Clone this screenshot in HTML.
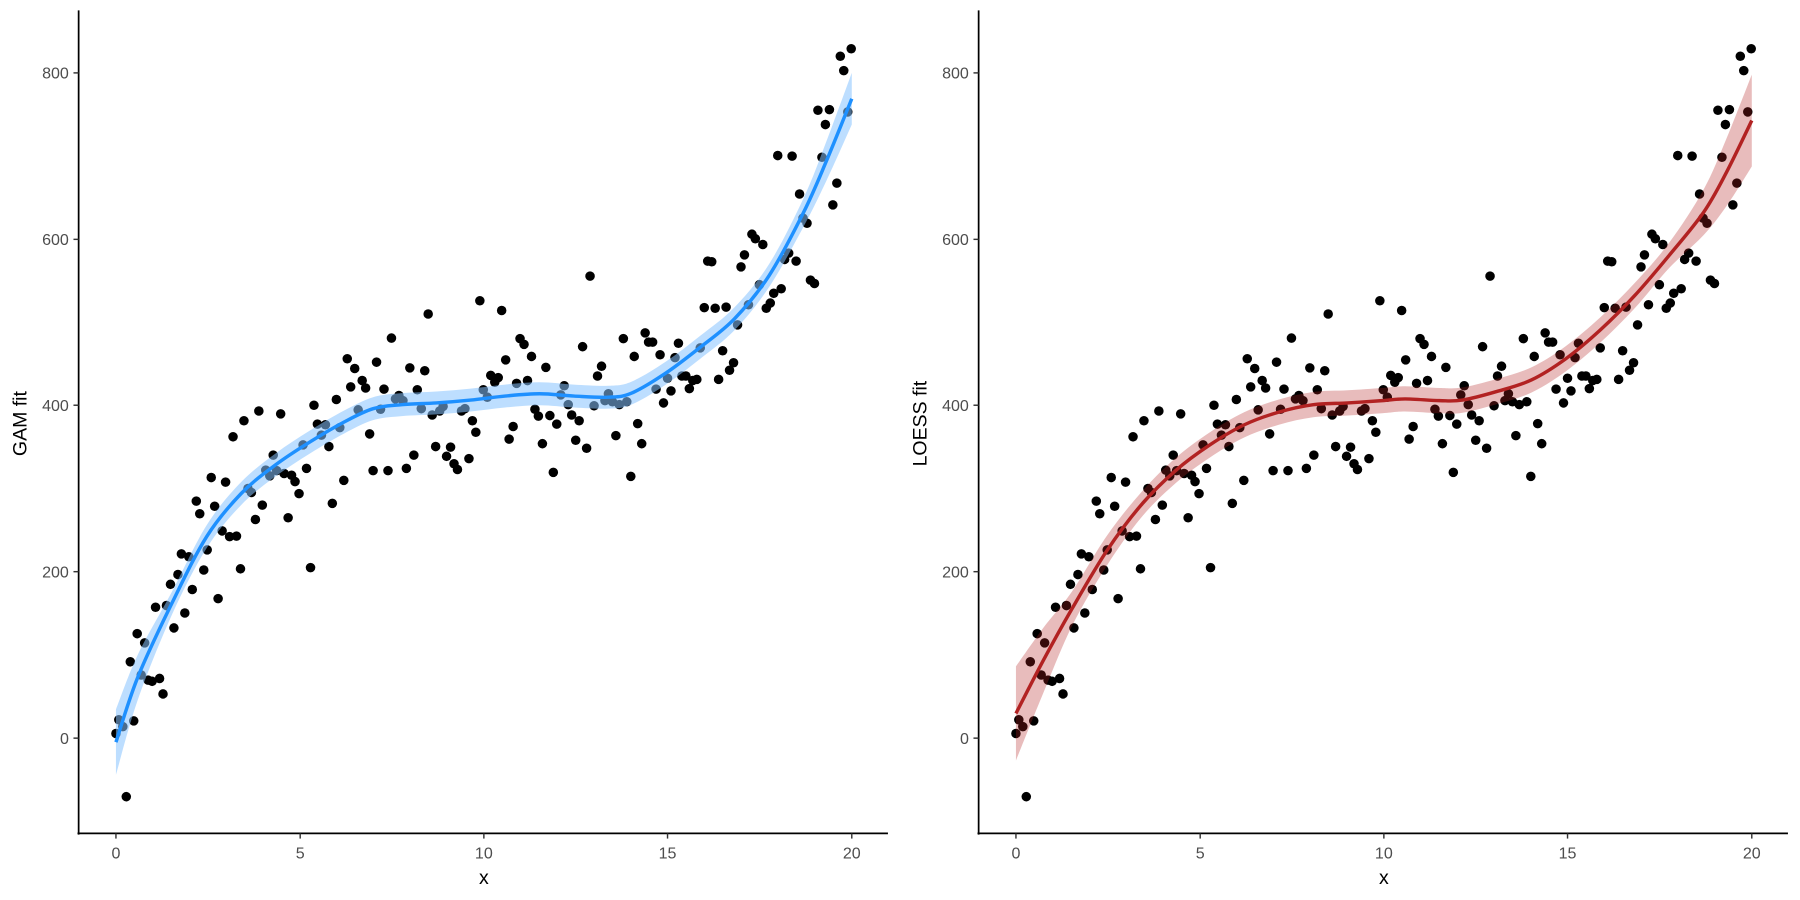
<!DOCTYPE html>
<html><head><meta charset="utf-8"><style>
html,body{margin:0;padding:0;background:#fff;width:1800px;height:900px;overflow:hidden}
svg{display:block;position:absolute;top:0}
text{font-family:"Liberation Sans",Arial,sans-serif}
</style></head><body>
<svg id="p1" style="left:0" width="900" height="900" viewBox="0 0 1568 1568"></svg>
<svg id="p2" style="left:900px" width="900" height="900" viewBox="0 0 1568 1568"></svg>
<script>
var pts=[[202,1278],[207,1254],[214,1266],[220,1388],[227,1153],[233,1256],[239,1104],[246,1176],[252,1120],[258,1185],[265,1187],[271,1058],[278,1182],[284,1209],[290,1055],[297,1018],[303,1094],[310,1001],[316,965],[322,1068],[329,970],[335,1027],[342,873],[348,895],[355,993],[361,958],[368,832],[374,882],[380,1043],[387,925],[393,840],[400,935],[406,761],[412,934],[419,991],[425,733],[432,851],[438,858],[445,905],[451,716],[457,880],[463,819],[470,829],[476,793],[482,820],[489,721],[495,825],[502,902],[508,828],[514,839],[521,860],[528,775],[534,816],[541,989],[547,706],[553,739],[560,758],[567,740],[573,778],[579,877],[586,696],[592,745],[599,837],[605,625],[611,674],[618,642],[624,714],[631,663],[637,676],[644,756],[650,820],[656,631],[663,713],[669,678],[676,820],[682,589],[689,695],[695,689],[702,698],[708,816],[714,641],[721,793],[727,679],[734,712],[740,646],[746,547],[753,723],[759,778],[766,716],[772,708],[778,795],[785,779],[791,808],[797,818],[804,716],[810,712],[817,799],[823,733],[829,753],[836,524],[842,679],[849,692],[855,654],[862,666],[868,658],[874,541],[881,627],[887,765],[894,743],[900,668],[906,590],[913,600],[919,663],[926,621],[932,713],[938,725],[945,773],[951,640],[958,724],[964,823],[970,739],[977,688],[983,672],[990,705],[996,723],[1003,767],[1009,733],[1015,604],[1022,781],[1028,481],[1035,707],[1041,655],[1048,638],[1054,698],[1060,686],[1067,700],[1073,759],[1079,705],[1086,590],[1092,700],[1099,830],[1105,621],[1111,738],[1118,773],[1124,580],[1130,596],[1137,596],[1143,678],[1150,618],[1156,702],[1163,659],[1169,681],[1176,623],[1182,598],[1188,655],[1195,655],[1201,677],[1207,663],[1214,661],[1220,606],[1227,536],[1233,455],[1240,456],[1246,537],[1252,661],[1259,611],[1265,535],[1271,645],[1278,632],[1285,566],[1291,465],[1297,444],[1304,531],[1310,408],[1316,416],[1323,496],[1329,426],[1335,537],[1342,528],[1348,511],[1355,271],[1361,503],[1367,452],[1374,441],[1380,272],[1387,455],[1393,338],[1399,380],[1406,389],[1412,488],[1419,494],[1425,192],[1432,274],[1438,217],[1445,191],[1451,357],[1458,319],[1464,98],[1470,123],[1477,195],[1483,85]];
var gam=[[202,1293],[240,1180],[300,1050],[360,935],[420,860],[480,810],[540,770],[600,735],[650,712],[700,705],[760,702],[820,697],[880,690],[940,686],[1000,690],[1060,692],[1100,685],[1160,650],[1220,605],[1280,555],[1340,480],[1400,370],[1440,280],[1484,172]];
var gw=function(x){return x<260?57-(x-202)/58*27:(x>1380?20+(x-1380)/104*25:20)};
var lo=[[202,1243],[250,1150],[300,1060],[360,960],[420,880],[480,820],[540,775],[600,740],[660,718],[720,705],[780,702],[840,698],[880,695],[940,698],[980,697],[1040,682],[1100,662],[1160,625],[1220,575],[1280,515],[1340,445],[1400,370],[1440,300],[1484,210]];
var lw=function(x){return x<300?82-(x-202)/98*52:(x>1380?30+(x-1380)/104*50:(x<=420?30-(x-300)/120*8:22))};
function catmull(p){var d="M"+p[0][0]+","+p[0][1];for(var i=0;i<p.length-1;i++){var p0=p[i-1]||p[i],p1=p[i],p2=p[i+1],p3=p[i+2]||p2;d+=" C"+(p1[0]+(p2[0]-p0[0])/6)+","+(p1[1]+(p2[1]-p0[1])/6)+" "+(p2[0]-(p3[0]-p1[0])/6)+","+(p2[1]-(p3[1]-p1[1])/6)+" "+p2[0]+","+p2[1];}return d;}
function band(p,w){var up=p.map(function(q){return[q[0],q[1]-w(q[0])]}),dn=p.map(function(q){return[q[0],q[1]+w(q[0])]}).reverse();return catmull(up)+" L"+catmull(dn).slice(1)+" Z";}
function build(id,curve,wf,fill,line,title){
 var s='';
 pts.forEach(function(p){s+='<circle cx="'+p[0]+'" cy="'+p[1]+'" r="8.3" fill="#000"/>';});
 s+='<path d="'+band(curve,wf)+'" fill="'+fill+'"/>';
 s+='<path d="'+catmull(curve)+'" fill="none" stroke="'+line+'" stroke-width="6"/>';
 s+='<line x1="137" y1="18" x2="137" y2="1454" stroke="#000" stroke-width="3"/>';
 s+='<line x1="135" y1="1452" x2="1547" y2="1452" stroke="#000" stroke-width="3"/>';
 [[0,1286],[200,996],[400,706],[600,417],[800,127]].forEach(function(t){s+='<line x1="128" y1="'+t[1]+'" x2="137" y2="'+t[1]+'" stroke="#333" stroke-width="2.5"/><text x="120" y="'+(t[1]+10)+'" font-size="28" fill="#4d4d4d" text-anchor="end">'+t[0]+'</text>';});
 [[0,202],[5,523],[10,843],[15,1163],[20,1484]].forEach(function(t){s+='<line x1="'+t[1]+'" y1="1452" x2="'+t[1]+'" y2="1461" stroke="#333" stroke-width="2.5"/><text x="'+t[1]+'" y="1496" font-size="28" fill="#4d4d4d" text-anchor="middle">'+t[0]+'</text>';});
 s+='<text x="843" y="1540" font-size="34" fill="#000" text-anchor="middle">x</text>';
 s+='<text transform="translate(46,738) rotate(-90)" font-size="34" fill="#000" text-anchor="middle">'+title+'</text>';
 document.getElementById(id).innerHTML=s;
}
build('p1',gam,gw,'rgba(135,195,255,0.55)','#1e90ff','GAM fit');
build('p2',lo,lw,'rgba(178,34,34,0.3)','#b22222','LOESS fit');
</script>
</body></html>
